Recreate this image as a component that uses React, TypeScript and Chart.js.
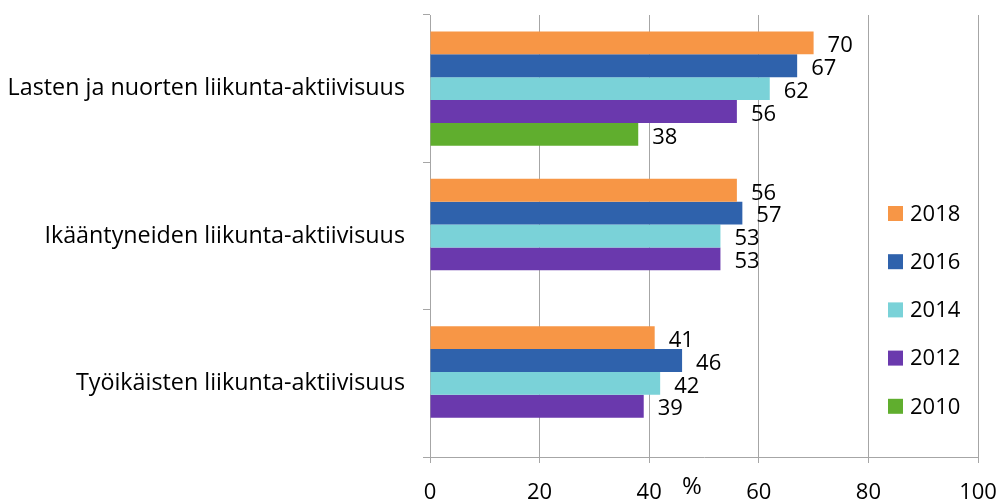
import { useEffect, useRef } from "react";
import { Chart, registerables } from "chart.js";

Chart.register(...registerables);

const FONT = '"Open Sans", "DejaVu Sans", sans-serif';

const categories = [
  "Lasten ja nuorten liikunta-aktiivisuus",
  "Ikääntyneiden liikunta-aktiivisuus",
  "Työikäisten liikunta-aktiivisuus",
];
const years = ["2018", "2016", "2014", "2012", "2010"];
const values2018 = [70, 56, 41];
const values2016 = [67, 57, 46];
const values2014 = [62, 53, 42];
const values2012 = [56, 53, 39];
const values2010 = [38, null, null];
const seriesColors = ["#F79646", "#2F62AC", "#7AD2D8", "#6A39AD", "#60AE2E"];
const xTicks = [0, 20, 40, 60, 80, 100];
const unitLabel = "%";

const GRID = "#A6A6A6";
const NUM_SIZE = 22;

// Value labels just past the end of each bar
const valueLabels = {
  id: "valueLabels",
  afterDatasetsDraw(chart: any) {
    const ctx = chart.ctx;
    ctx.save();
    ctx.font = `${NUM_SIZE}px ${FONT}`;
    ctx.fillStyle = "#000";
    ctx.textAlign = "left";
    ctx.textBaseline = "middle";
    chart.data.datasets.forEach((ds: any, i: number) => {
      const meta = chart.getDatasetMeta(i);
      meta.data.forEach((bar: any, j: number) => {
        const v = ds.data[j];
        if (v === null || v === undefined) return;
        ctx.fillText(String(v), bar.x + 14, bar.y + 3);
      });
    });
    ctx.restore();
  },
};

// Vertical legend inside the right part of the plot
const sideLegend = {
  id: "sideLegend",
  afterDraw(chart: any) {
    const ctx = chart.ctx;
    const left = 888;
    const top = 213.5;
    const step = 48.2;
    ctx.save();
    ctx.font = `${NUM_SIZE}px ${FONT}`;
    ctx.textAlign = "left";
    ctx.textBaseline = "middle";
    chart.data.datasets.forEach((ds: any, i: number) => {
      const cy = top + i * step;
      ctx.fillStyle = ds.backgroundColor;
      ctx.fillRect(left, cy - 7.5, 15, 15);
      ctx.fillStyle = "#000";
      ctx.fillText(ds.label, left + 22, cy + 1);
    });
    ctx.restore();
  },
};

// Unit caption sitting in the tick-label row of the value axis
const unitCaption = {
  id: "unitCaption",
  afterDraw(chart: any) {
    const ctx = chart.ctx;
    const area = chart.chartArea;
    ctx.save();
    ctx.font = `24px ${FONT}`;
    ctx.fillStyle = "#000";
    ctx.textAlign = "center";
    ctx.textBaseline = "middle";
    ctx.fillText(unitLabel, (area.left + area.right) / 2 - 12, area.bottom + 30);
    ctx.restore();
  },
};

export default function App() {
  const canvasRef = useRef<HTMLCanvasElement | null>(null);

  useEffect(() => {
    document.body.style.margin = "0";
    const canvas = canvasRef.current;
    if (!canvas) return;
    const series = [values2018, values2016, values2014, values2012, values2010];
    const chart = new Chart(canvas, {
      type: "bar",
      data: {
        labels: categories,
        datasets: series.map((vals, i) => ({
          label: years[i],
          data: vals,
          backgroundColor: seriesColors[i],
          borderWidth: 0,
          categoryPercentage: 0.776,
          barPercentage: 1,
        })),
      },
      options: {
        indexAxis: "y",
        responsive: false,
        animation: false,
        devicePixelRatio: 1,
        layout: { padding: { top: 15, right: 22, left: 0, bottom: 0 } },
        plugins: {
          legend: { display: false },
          tooltip: { enabled: false },
        },
        scales: {
          x: {
            min: 0,
            max: 100,
            afterBuildTicks(scale: any) {
              scale.ticks = xTicks.map((v) => ({ value: v }));
            },
            afterFit(scale: any) {
              scale.height = 43;
              scale.paddingLeft = 0;
              scale.paddingRight = 0;
            },
            ticks: {
              color: "#000",
              font: { family: FONT, size: NUM_SIZE },
              padding: 17,
              maxRotation: 0,
            },
            grid: {
              color: GRID,
              lineWidth: 1,
              drawTicks: true,
              tickLength: 6,
              tickColor: GRID,
            },
            border: { display: true, color: GRID, width: 1 },
          },
          y: {
            afterFit(scale: any) {
              scale.width = 430;
              scale.paddingTop = 0;
              scale.paddingBottom = 0;
            },
            ticks: {
              color: "#000",
              font: { family: FONT, size: 23.3 },
              padding: 18,
            },
            grid: {
              drawOnChartArea: false,
              drawTicks: true,
              tickLength: 7,
              offset: true,
              color: GRID,
              tickColor: GRID,
            },
            border: { display: true, color: GRID, width: 1 },
          },
        },
      },
      plugins: [valueLabels, sideLegend, unitCaption],
    });
    return () => chart.destroy();
  }, []);

  return (
    <div style={{ width: 1000, height: 500, background: "#fff" }}>
      <canvas ref={canvasRef} width={1000} height={500} style={{ display: "block" }} />
    </div>
  );
}
